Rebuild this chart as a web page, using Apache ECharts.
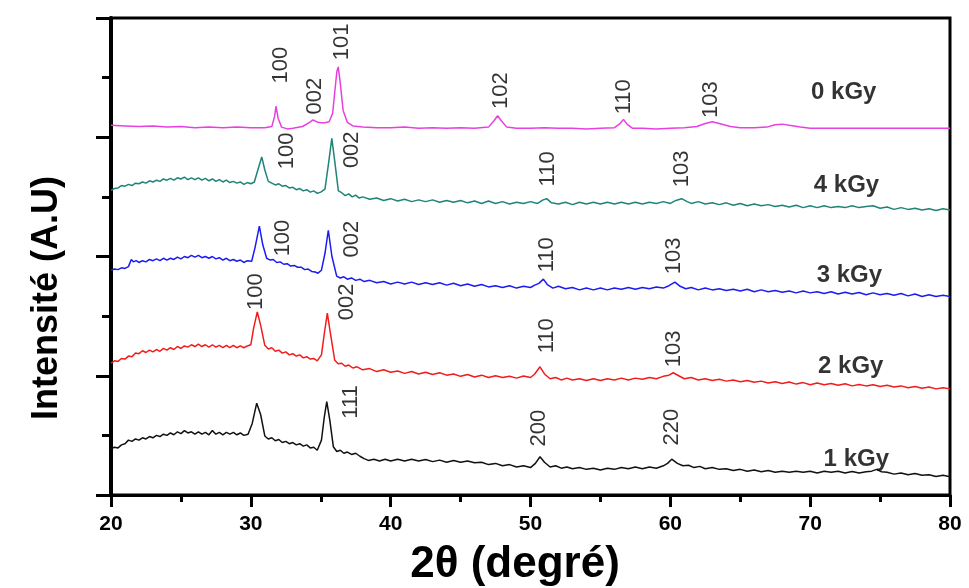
<!DOCTYPE html>
<html>
<head>
<meta charset="utf-8">
<script src="https://cdn.jsdelivr.net/npm/echarts@6/dist/echarts.min.js"></script>
<style>
html,body{margin:0;padding:0;background:#fff;}
#c{width:969px;height:588px;}
</style>
</head>
<body>
<div id="c"></div>
<script>
// ---- data (2θ in degrees, intensity in arbitrary stacked units) ----
const xTicks = [20, 30, 40, 50, 60, 70, 80];

const s0kGy = [[20,62.0],[21,61.9],[22,61.8],[23,61.9],[24,61.7],[25,61.8],[26,61.6],[27,61.7],[28,61.6],[29,61.7],[30,61.6],[31,61.6],[31.5,61.8],[31.7,63.5],[31.8,65.2],[31.95,63.2],[32.2,61.7],[32.6,61.4],[33.0,61.5],[33.7,61.8],[34.2,62.5],[34.45,62.9],[34.8,62.5],[35.2,62.4],[35.6,62.6],[35.85,64.0],[36.0,67.5],[36.15,71.0],[36.25,71.8],[36.4,69.0],[36.6,64.5],[36.9,62.5],[37.3,61.9],[38,61.7],[39,61.6],[40,61.6],[41,61.7],[42,61.5],[43,61.6],[44,61.5],[45,61.6],[46,61.5],[47.0,61.7],[47.4,62.8],[47.65,63.6],[47.9,62.8],[48.3,61.7],[49,61.5],[50,61.5],[51,61.6],[52,61.5],[53,61.5],[54,61.4],[55,61.5],[56,61.6],[56.4,62.3],[56.65,63.0],[56.9,62.2],[57.3,61.5],[58,61.5],[59,61.4],[60,61.5],[61,61.6],[61.9,61.8],[62.5,62.3],[63.0,62.6],[63.5,62.3],[64.3,61.8],[65,61.6],[66,61.6],[66.9,61.7],[67.5,62.1],[68.0,62.2],[68.5,62.0],[69.3,61.7],[70,61.5],[72,61.5],[74,61.5],[76,61.5],[78,61.5],[80,61.5]];

const s4kGy = [[20,51.1],[20.25,51.4],[20.5,51.5],[20.75,51.9],[21,51.8],[21.25,52.1],[21.5,51.9],[21.75,52.3],[22,52.2],[22.25,52.5],[22.5,52.3],[22.75,52.7],[23,52.5],[23.25,52.8],[23.5,52.6],[23.75,53.0],[24,52.8],[24.25,53.1],[24.5,52.8],[24.75,53.2],[25,53.0],[25.25,53.3],[25.5,52.9],[25.75,53.2],[26,52.9],[26.25,53.2],[26.5,52.8],[26.75,53.1],[27,52.7],[27.25,53.0],[27.5,52.6],[27.75,52.9],[28,52.5],[28.25,52.8],[28.5,52.4],[28.75,52.6],[29,52.3],[29.25,52.5],[29.5,52.1],[29.75,52.4],[30,52.2],[30.25,52.5],[30.5,54.5],[30.78,56.7],[31.0,54.5],[31.25,52.6],[31.5,52.3],[31.75,52.0],[32,52.2],[32.25,51.8],[32.5,51.9],[32.75,51.5],[33,51.6],[33.25,51.2],[33.5,51.4],[33.75,51.0],[34,51.2],[34.25,50.8],[34.5,51.0],[34.75,50.6],[35.0,50.8],[35.3,51.3],[35.55,55.5],[35.79,59.8],[36.0,56.0],[36.26,51.0],[36.5,50.7],[36.75,50.2],[37,50.5],[37.25,50.0],[37.5,50.3],[37.75,49.8],[38,50.0],[38.5,49.6],[39,49.8],[39.5,49.4],[40,49.7],[40.5,49.3],[41,49.6],[41.5,49.2],[42,49.5],[42.5,49.2],[43,49.5],[43.5,49.1],[44,49.4],[44.5,49.1],[45,49.4],[45.5,49.0],[46,49.3],[46.5,48.9],[47,49.3],[47.5,48.9],[48,49.2],[48.5,48.8],[49,49.1],[49.5,48.9],[50,49.2],[50.5,48.9],[50.9,49.5],[51.16,49.7],[51.5,49.0],[52,48.8],[52.5,49.1],[53,48.7],[53.5,49.1],[54,48.8],[54.5,49.1],[55,48.8],[55.5,49.1],[56,48.8],[56.5,49.1],[57,48.8],[57.5,49.1],[58,48.8],[58.5,49.1],[59,48.9],[59.5,49.2],[60,48.9],[60.4,49.4],[60.81,49.7],[61.2,49.2],[61.5,48.9],[62,49.2],[62.5,48.8],[63,49.0],[63.5,48.7],[64,49.0],[64.5,48.6],[65,48.9],[65.5,48.5],[66,48.8],[66.5,48.5],[67,48.7],[67.5,48.4],[68,48.6],[68.5,48.3],[69,48.6],[69.5,48.2],[70,48.5],[70.5,48.2],[71,48.5],[71.5,48.2],[72,48.4],[72.5,48.2],[73,48.5],[73.5,48.2],[74,48.4],[74.5,48.5],[75,48.1],[75.5,48.3],[76,47.9],[76.5,48.2],[77,47.9],[77.5,48.1],[78,47.8],[78.5,48.0],[79,47.7],[79.5,48.0],[80,47.8]];

const s3kGy = [[20,37.7],[20.25,37.9],[20.5,37.8],[20.75,38.1],[21,38.0],[21.25,38.3],[21.45,39.5],[21.6,39.1],[21.8,39.3],[22,39.0],[22.25,39.3],[22.5,39.1],[22.75,39.5],[23,39.3],[23.25,39.6],[23.5,39.3],[23.75,39.7],[24,39.4],[24.25,39.7],[24.5,39.5],[24.75,39.9],[25,39.6],[25.25,40.0],[25.5,39.8],[25.75,40.2],[26,39.9],[26.25,40.2],[26.5,39.8],[26.75,40.0],[27,39.7],[27.25,40.0],[27.5,39.6],[27.75,39.8],[28,39.4],[28.25,39.7],[28.5,39.3],[28.75,39.5],[29,39.2],[29.25,39.4],[29.5,39.0],[29.75,39.3],[30.06,39.2],[30.3,41.5],[30.61,45.1],[30.85,42.0],[31.13,39.7],[31.4,39.4],[31.6,39.5],[31.85,39.0],[32.1,39.1],[32.35,38.7],[32.6,38.8],[32.85,38.4],[33.1,38.5],[33.35,38.2],[33.6,38.2],[33.85,37.8],[34.1,37.9],[34.35,37.5],[34.6,37.4],[34.8,37.2],[35.05,37.7],[35.3,40.5],[35.54,44.4],[35.8,40.0],[36.14,36.7],[36.4,36.4],[36.65,36.6],[36.9,36.2],[37.2,36.4],[37.5,36.0],[37.8,36.2],[38.1,35.8],[38.5,36.0],[39,35.6],[39.5,35.8],[40,35.4],[40.5,35.7],[41,35.4],[41.5,35.7],[42,35.3],[42.5,35.6],[43,35.3],[43.5,35.6],[44,35.2],[44.5,35.5],[45,35.1],[45.5,35.4],[46,35.0],[46.5,35.3],[47,34.9],[47.5,35.1],[48,34.8],[48.5,35.1],[49,34.7],[49.5,35.0],[50,34.8],[50.3,35.2],[50.6,35.5],[50.92,36.2],[51.2,35.3],[51.6,34.7],[52,35.0],[52.5,34.6],[53,34.8],[53.5,34.4],[54,34.7],[54.5,34.4],[55,34.7],[55.5,34.4],[56,34.7],[56.5,34.5],[57,34.8],[57.5,34.5],[58,34.8],[58.5,34.6],[59,34.9],[59.5,34.7],[59.9,35.1],[60.33,35.7],[60.7,35.0],[61.1,34.6],[61.5,34.8],[62,34.4],[62.5,34.7],[63,34.4],[63.5,34.6],[64,34.3],[64.5,34.5],[65,34.2],[65.5,34.5],[66,34.1],[66.5,34.4],[67,34.1],[67.5,34.3],[68,34.0],[68.5,34.2],[69,33.9],[69.5,34.2],[70,33.9],[70.5,34.1],[71,33.8],[71.5,34.1],[72,33.7],[72.5,34.0],[73,33.7],[73.5,33.95],[74,33.6],[74.5,33.9],[75,33.6],[75.5,33.8],[76,33.5],[76.5,33.8],[77,33.4],[77.5,33.7],[78,33.3],[78.5,33.6],[79,33.3],[79.5,33.5],[80,33.3]];

const s2kGy = [[20,22.1],[20.25,22.5],[20.5,22.4],[20.75,22.9],[21,22.8],[21.25,23.3],[21.5,23.2],[21.75,23.8],[22,23.7],[22.25,24.2],[22.5,23.9],[22.75,24.3],[23,24.0],[23.25,24.4],[23.5,24.1],[23.75,24.6],[24,24.3],[24.25,24.7],[24.5,24.4],[24.75,24.9],[25,24.6],[25.25,25.0],[25.5,24.8],[25.75,25.2],[26,24.9],[26.25,25.3],[26.5,24.9],[26.75,25.2],[27,24.8],[27.25,25.2],[27.5,24.8],[27.75,25.1],[28,24.7],[28.25,25.1],[28.5,24.7],[28.75,25.1],[29,24.7],[29.25,25.0],[29.5,24.7],[29.75,25.0],[30.0,25.2],[30.2,28.0],[30.46,30.7],[30.7,28.5],[31.0,25.1],[31.25,24.5],[31.5,24.7],[31.75,24.1],[32,24.3],[32.25,23.8],[32.5,24.0],[32.75,23.5],[33,23.7],[33.25,23.3],[33.5,23.5],[33.75,23.0],[34,23.2],[34.25,22.8],[34.5,22.9],[34.75,22.5],[35.05,23.5],[35.25,27.0],[35.47,30.5],[35.7,27.0],[36.0,22.6],[36.25,22.0],[36.5,22.1],[36.75,21.6],[37,21.8],[37.3,21.3],[37.6,21.5],[38,21.0],[38.5,21.2],[39,20.7],[39.5,21.0],[40,20.6],[40.5,20.8],[41,20.4],[41.5,20.7],[42,20.3],[42.5,20.6],[43,20.2],[43.5,20.5],[44,20.1],[44.5,20.3],[45,19.9],[45.5,20.2],[46,19.8],[46.5,20.1],[47,19.7],[47.5,20.0],[48,19.7],[48.5,19.9],[49,19.6],[49.5,19.95],[50,19.7],[50.3,20.3],[50.68,21.5],[51.0,20.3],[51.4,19.5],[51.8,19.7],[52.2,19.3],[52.6,19.6],[53,19.3],[53.5,19.5],[54,19.2],[54.5,19.5],[55,19.2],[55.5,19.5],[56,19.3],[56.5,19.6],[57,19.3],[57.5,19.6],[58,19.4],[58.5,19.7],[59,19.5],[59.5,19.9],[59.9,20.1],[60.21,20.5],[60.6,20.0],[61.0,19.5],[61.5,19.7],[62,19.3],[62.5,19.5],[63,19.2],[63.5,19.4],[64,19.1],[64.5,19.3],[65,19.0],[65.5,19.2],[66,18.9],[66.5,19.1],[67,18.8],[67.5,19.0],[68,18.7],[68.5,18.95],[69,18.6],[69.5,18.85],[70,18.5],[70.5,18.8],[71,18.5],[71.5,18.7],[72,18.4],[72.5,18.65],[73,18.3],[73.5,18.55],[74,18.3],[74.5,18.5],[75,18.2],[75.5,18.4],[76,18.1],[76.5,18.3],[77,18.0],[77.5,18.2],[78,17.9],[78.5,18.1],[79,17.8],[79.5,18.0],[80,17.8]];

const s1kGy = [[20,7.8],[20.25,8.0],[20.5,7.9],[20.75,8.4],[21,8.6],[21.25,9.2],[21.5,9.0],[21.75,9.4],[22,9.2],[22.25,9.6],[22.5,9.4],[22.75,9.8],[23,9.6],[23.25,10.0],[23.5,9.8],[23.75,10.2],[24,10.0],[24.25,10.4],[24.5,10.1],[24.75,10.6],[25,10.3],[25.25,10.8],[25.5,10.4],[25.75,10.6],[26,10.2],[26.25,10.6],[26.5,10.2],[26.75,10.5],[27,10.1],[27.25,10.8],[27.5,10.2],[27.75,10.5],[28,10.1],[28.25,10.5],[28.5,10.2],[28.75,10.5],[29,10.1],[29.25,10.4],[29.5,10.0],[29.8,10.2],[30.1,12.0],[30.42,15.4],[30.7,13.5],[31.0,9.9],[31.25,9.4],[31.5,9.6],[31.75,9.1],[32,9.3],[32.25,8.8],[32.5,9.0],[32.75,8.6],[33,8.8],[33.25,8.4],[33.5,8.6],[33.75,8.2],[34,8.4],[34.25,7.9],[34.5,8.0],[34.75,7.5],[35.05,9.2],[35.25,13.0],[35.43,15.65],[35.65,12.5],[35.9,8.1],[36.15,7.3],[36.4,7.5],[36.65,7.0],[36.9,7.2],[37.2,6.8],[37.5,7.0],[37.8,6.5],[38.1,6.1],[38.4,5.8],[38.8,6.0],[39.2,5.7],[39.6,6.0],[40,5.7],[40.5,6.0],[41,5.7],[41.5,6.0],[42,5.7],[42.5,5.95],[43,5.6],[43.5,5.85],[44,5.5],[44.5,5.8],[45,5.5],[45.5,5.7],[46,5.4],[46.5,5.5],[47,5.1],[47.5,5.3],[48,4.9],[48.5,5.1],[49,4.7],[49.5,4.9],[50,4.6],[50.35,5.3],[50.68,6.42],[51.0,5.5],[51.4,4.7],[51.8,4.9],[52.2,4.5],[52.6,4.7],[53,4.4],[53.5,4.6],[54,4.3],[54.5,4.5],[55,4.2],[55.5,4.5],[56,4.3],[56.5,4.6],[57,4.4],[57.5,4.7],[58,4.4],[58.5,4.7],[59,4.5],[59.5,4.9],[59.8,5.3],[60.1,6.0],[60.5,5.3],[60.9,4.9],[61.3,5.0],[61.7,4.6],[62.1,4.8],[62.5,4.4],[63,4.6],[63.5,4.3],[64,4.4],[64.5,4.1],[65,4.3],[65.5,4.0],[66,4.2],[66.5,3.9],[67,4.1],[67.5,3.8],[68,4.0],[68.5,3.8],[69,4.0],[69.5,3.8],[70,4.0],[70.5,3.7],[71,4.0],[71.5,3.8],[72,4.0],[72.5,3.7],[73,3.95],[73.5,3.7],[74,3.9],[74.4,4.0],[74.76,4.3],[75.1,3.9],[75.5,3.8],[76,3.5],[76.5,3.7],[77,3.4],[77.5,3.6],[78,3.3],[78.5,3.4],[79,3.1],[79.5,3.3],[80,3.07]];

const seriesNames = ['0 kGy', '4 kGy', '3 kGy', '2 kGy', '1 kGy'];

// Miller-index annotations: text, 2θ, height
const peakText = ['100','002','101','102','110','103', '100','002','110','103', '100','002','110','103', '100','002','110','103', '111','200','220'];
const peakX    = [32.16,34.59,36.52,47.89,56.69,62.92, 32.59,37.24,51.25,60.84, 32.30,37.24,51.18,60.27, 30.37,36.88,51.18,60.27, 37.16,50.61,60.12];
const peakY    = [72.1,66.9,76.0,67.8,66.8,66.3, 57.7,57.9,54.7,54.7, 43.1,42.9,40.3,40.1, 34.1,32.4,26.7,24.5, 15.6,11.2,11.4];

// dose labels
const doseX = [72.4, 72.6, 72.8, 72.9, 73.3];
const doseY = [67.6, 52.0, 36.9, 21.5, 6.0];

// ---- chart ----
const colors = ['#e840e0', '#1f8478', '#1c1cf2', '#f21c1c', '#111111'];
const curves = [s0kGy, s4kGy, s3kGy, s2kGy, s1kGy];

const series = curves.map((d, i) => ({
  name: seriesNames[i],
  type: 'line',
  data: d,
  showSymbol: false,
  symbol: 'none',
  smooth: false,
  lineStyle: { color: colors[i], width: 1.5 },
  silent: true,
  z: 3
}));

series.push({
  type: 'scatter',
  data: peakText.map((t, i) => ({ name: t, value: [peakX[i], peakY[i]] })),
  symbolSize: 0,
  silent: true,
  label: {
    show: true,
    position: 'inside',
    rotate: 90,
    formatter: p => p.name,
    color: '#000',
    fontSize: 22,
    fontFamily: 'Liberation Sans Narrow, Liberation Sans, Arial, sans-serif'
  },
  z: 5
});

series.push({
  type: 'scatter',
  data: seriesNames.map((t, i) => ({ name: t, value: [doseX[i], doseY[i]] })),
  symbolSize: 0,
  silent: true,
  label: {
    show: true,
    position: 'inside',
    formatter: p => p.name,
    color: '#000',
    fontSize: 24,
    fontWeight: 'bold',
    fontFamily: 'Liberation Sans, Arial, sans-serif'
  },
  z: 5
});

const chart = echarts.init(document.getElementById('c'), null, { renderer: 'canvas' });
chart.setOption({
  animation: false,
  backgroundColor: '#fff',
  grid: {
    left: 111, right: 19, top: 18, bottom: 93,
    show: true, borderColor: '#000', borderWidth: 3, backgroundColor: 'transparent'
  },
  xAxis: {
    type: 'value',
    min: 20, max: 80, interval: 10,
    axisLine: { show: true, onZero: false, lineStyle: { color: '#000', width: 3 } },
    axisTick: { show: true, inside: false, length: 12, lineStyle: { color: '#000', width: 3 } },
    minorTick: { show: true, splitNumber: 2, length: 7, lineStyle: { color: '#000', width: 3 } },
    splitLine: { show: false },
    axisLabel: {
      margin: 19, color: '#000', fontSize: 21, fontWeight: 'bold',
      fontFamily: 'Liberation Sans, Arial, sans-serif',
      formatter: v => (xTicks.indexOf(v) >= 0 ? String(v) : '')
    }
  },
  yAxis: {
    type: 'value',
    min: 0, max: 80, interval: 20,
    axisLine: { show: true, onZero: false, lineStyle: { color: '#000', width: 4 } },
    axisTick: { show: true, inside: false, length: 15, lineStyle: { color: '#000', width: 3 } },
    minorTick: { show: true, splitNumber: 2, length: 9, lineStyle: { color: '#000', width: 3 } },
    splitLine: { show: false },
    axisLabel: { show: false }
  },
  graphic: [
    {
      type: 'text', x: 47, y: 298, rotation: Math.PI / 2,
      style: {
        text: 'Intensité (A.U)', fill: '#000',
        font: 'bold 36px "Liberation Sans", Arial, sans-serif',
        textAlign: 'center', textVerticalAlign: 'middle'
      }
    },
    {
      type: 'text', x: 515, y: 565,
      style: {
        text: '2θ (degré)', fill: '#000',
        font: 'bold 44px "Liberation Sans", Arial, sans-serif',
        textAlign: 'center', textVerticalAlign: 'middle'
      }
    }
  ],
  series: series
});
</script>
</body>
</html>
